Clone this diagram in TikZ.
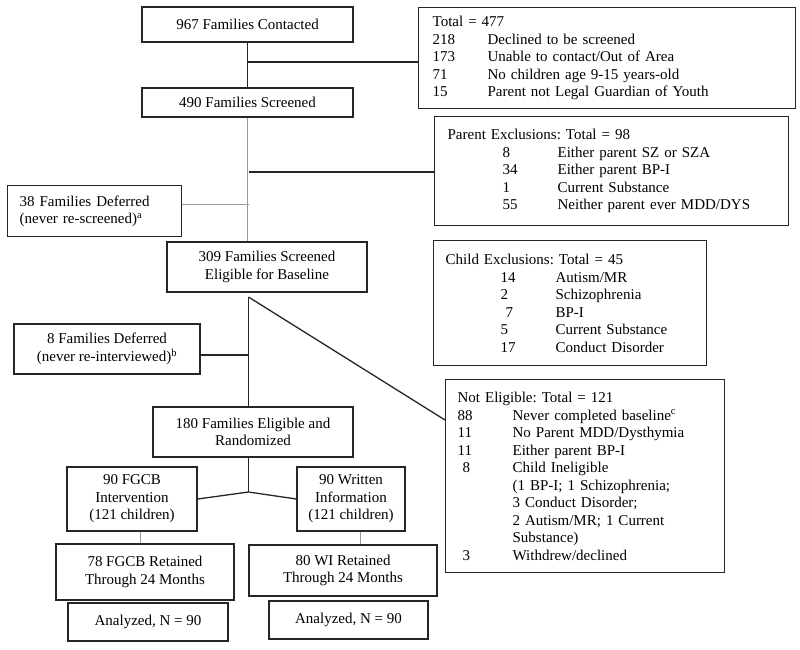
\documentclass[tikz,border=0pt]{standalone}
\usepackage{fontspec}
\setmainfont{Liberation Serif}
\usetikzlibrary{positioning}
\frenchspacing
\newcommand{\cnt}[2]{\makebox[55pt][l]{#1}#2}
\newcommand{\icnt}[2]{\hspace*{55pt}\cnt{#1}{#2}}

\begin{document}
\begin{tikzpicture}[x=1pt,y=-1pt,
  font=\fontsize{15}{17.5}\selectfont,
  box/.style={draw=black!85, line width=1.3pt, inner sep=0pt, align=center},
  list/.style={draw=black!85, line width=1.3pt, anchor=north west, align=left, inner ysep=0pt},
  link/.style={black!85, line width=1.3pt},
  faint/.style={black!40, line width=0.9pt}]
\useasboundingbox (0,0) rectangle (800,649);

\node[box, minimum width=211pt, minimum height=35pt] (contacted) at (247.5,24.5) {967 Families Contacted};
\node[box, minimum width=211pt, minimum height=29pt] (screened) at (247.5,102.5) {490 Families Screened};
\node[list, inner xsep=14pt, text width=349pt, minimum height=101pt] (total) at (418,7)
  {Total = 477\\ \cnt{218}{Declined to be screened}\\ \cnt{173}{Unable to contact/Out of Area}\\
   \cnt{71}{No children age 9-15 years-old}\\ \cnt{15}{Parent not Legal Guardian of Youth}};
\node[list, inner xsep=13pt, text width=328pt, minimum height=109pt] (parent) at (434,116)
  {Parent Exclusions: Total = 98\\ \icnt{8}{Either parent SZ or SZA}\\ \icnt{34}{Either parent BP-I}\\
   \icnt{1}{Current Substance}\\ \icnt{55}{Neither parent ever MDD/DYS}};
\node[list, inner xsep=12pt, text width=150pt, minimum height=51pt] (deferredA) at (7,185)
  {38 Families Deferred\\ (never re-screened)\textsuperscript{a}};
\node[box, minimum width=200pt, minimum height=50pt] (baseline) at (267,267) {309 Families Screened\\ Eligible for Baseline};
\node[list, inner xsep=12pt, text width=249pt, minimum height=125pt] (child) at (433,240)
  {Child Exclusions: Total = 45\\ \icnt{14}{Autism/MR}\\ \icnt{2}{Schizophrenia}\\ \icnt{\ 7}{BP-I}\\
   \icnt{5}{Current Substance}\\ \icnt{17}{Conduct Disorder}};
\node[box, minimum width=186pt, minimum height=50pt] (deferredB) at (107,349) {8 Families Deferred\\ (never re-interviewed)\textsuperscript{b}};
\node[box, minimum width=200pt, minimum height=50pt] (random) at (253,432) {180 Families Eligible and\\ Randomized};
\node[list, inner xsep=12pt, text width=255pt, minimum height=193pt] (notelig) at (445,379)
  {Not Eligible: Total = 121\\ \cnt{88}{Never completed baseline\textsuperscript{c}}\\ \cnt{11}{No Parent MDD/Dysthymia}\\
   \cnt{11}{Either parent BP-I}\\ \cnt{\ 8}{Child Ineligible}\\ \cnt{}{(1 BP-I; 1 Schizophrenia;}\\
   \cnt{}{3 Conduct Disorder;}\\ \cnt{}{2 Autism/MR; 1 Current}\\ \cnt{}{Substance)}\\ \cnt{\ 3}{Withdrew/declined}};
\node[box, minimum width=130pt, minimum height=64pt] (fgcb) at (132,499) {90 FGCB\\ Intervention\\ (121 children)};
\node[box, minimum width=108pt, minimum height=64pt] (written) at (351,499) {90 Written\\ Information\\ (121 children)};
\node[box, minimum width=178pt, minimum height=56pt] (retF) at (145,572) {78 FGCB Retained\\ Through 24 Months};
\node[box, minimum width=188pt, minimum height=51pt] (retW) at (343,570.5) {80 WI Retained\\ Through 24 Months};
\node[box, minimum width=160pt, minimum height=38pt] (anaF) at (148,622) {Analyzed, N = 90};
\node[box, minimum width=159pt, minimum height=38pt] (anaW) at (348.5,620) {Analyzed, N = 90};

\coordinate (j1) at (247.5,62);
\coordinate (t1) at (249,172);
\coordinate (t2) at (248.5,204);
\coordinate (t3) at (248.5,297);
\coordinate (t4) at (248.5,355);
\coordinate (t5) at (248.5,492);
\coordinate (d1) at (445,420);

\draw[link] (contacted) -- (screened);
\draw[link] (j1) -- (j1 -| total.west);
\draw[faint] (screened.south) -- (screened.south |- baseline.north);
\draw[link] (t1) -- (t1 -| parent.west);
\draw[faint] (deferredA.east |- t2) -- (t2);
\draw[link] (t3) -- (t3 |- random.north);
\draw[link] (t3) -- (d1);
\draw[link] (deferredB.east |- t4) -- (t4);
\draw[link] (t5 |- random.south) -- (t5);
\draw[link] (fgcb.east) -- (t5) -- (written.west);
\draw[faint] ([xshift=-5pt]retF.north) -- ([xshift=-5pt]retF.north |- fgcb.south);
\draw[faint] ([xshift=9pt]written.south) -- ([xshift=9pt]written.south |- retW.north);
\end{tikzpicture}
\end{document}
